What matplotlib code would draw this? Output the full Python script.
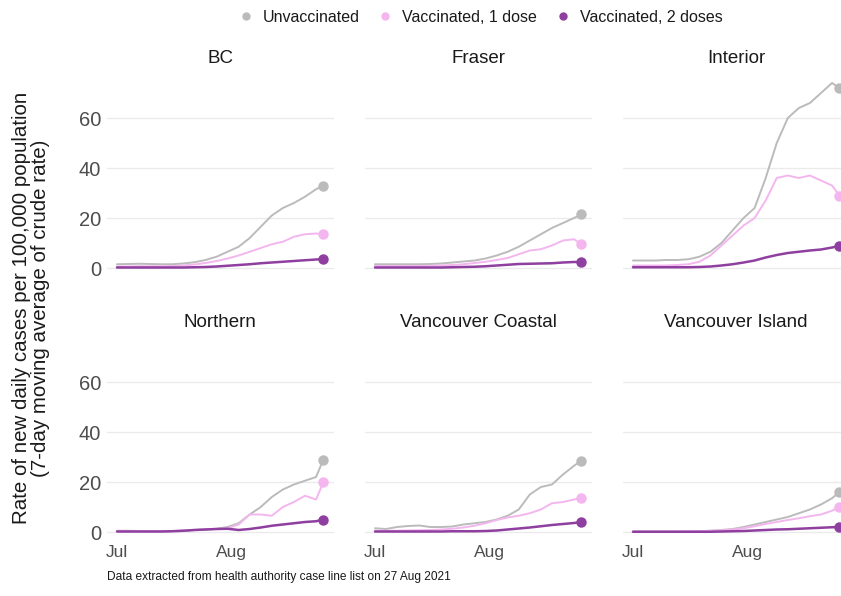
import numpy as np
import matplotlib
matplotlib.use("Agg")
import matplotlib.pyplot as plt
import matplotlib.dates as mdates
from matplotlib.lines import Line2D

plt.rcParams['font.family'] = ['Liberation Sans', 'DejaVu Sans']

# dates the values were read at (every 3 days, plus the last day)
dates = np.array(['2021-07-01', '2021-07-04', '2021-07-07', '2021-07-10', '2021-07-13',
                  '2021-07-16', '2021-07-19', '2021-07-22', '2021-07-25', '2021-07-28',
                  '2021-07-31', '2021-08-03', '2021-08-06', '2021-08-09', '2021-08-12',
                  '2021-08-15', '2021-08-18', '2021-08-21', '2021-08-24', '2021-08-26'],
                 dtype='datetime64[D]')

regions = ["BC", "Fraser", "Interior", "Northern", "Vancouver Coastal", "Vancouver Island"]
groups = ["Unvaccinated", "Vaccinated, 1 dose", "Vaccinated, 2 doses"]

bc_unvax = [1.5, 1.6, 1.7, 1.6, 1.5, 1.5, 1.8, 2.3, 3.2, 4.5, 6.5, 8.5, 12, 16.5, 21, 24, 26, 28.5, 31.5, 33]
bc_dose1 = [0.6, 0.6, 0.7, 0.7, 0.7, 0.8, 1, 1.4, 2, 2.8, 3.8, 5, 6.5, 8, 9.5, 10.5, 12.5, 13.5, 13.8, 13.5]
bc_dose2 = [0.2, 0.2, 0.2, 0.2, 0.2, 0.2, 0.2, 0.3, 0.4, 0.6, 0.9, 1.2, 1.5, 1.9, 2.2, 2.5, 2.8, 3.1, 3.4, 3.6]

fraser_unvax = [1.5, 1.5, 1.5, 1.5, 1.5, 1.6, 1.8, 2.2, 2.6, 3.0, 3.8, 5, 6.5, 8.5, 11, 13.5, 16, 18, 20, 21.5]
fraser_dose1 = [0.8, 0.8, 0.8, 0.8, 0.8, 0.9, 1, 1.2, 1.5, 2, 2.5, 3.2, 4, 5.5, 7, 7.5, 9, 11, 11.5, 9.5]
fraser_dose2 = [0.2, 0.2, 0.2, 0.2, 0.2, 0.2, 0.2, 0.3, 0.4, 0.5, 0.7, 1.0, 1.3, 1.6, 1.7, 1.8, 1.9, 2.2, 2.4, 2.4]

interior_unvax = [3, 3, 3, 3.2, 3.2, 3.5, 4.5, 6.5, 10, 15, 20, 24, 36, 50, 60, 64, 66, 70, 74, 72]
interior_dose1 = [1, 1, 1, 1, 1.2, 1.5, 2.5, 5, 9, 13, 17, 20, 27, 36, 37, 36, 37, 35, 33, 29]
interior_dose2 = [0.3, 0.3, 0.3, 0.3, 0.3, 0.3, 0.4, 0.6, 1, 1.5, 2.2, 3, 4.2, 5.2, 6, 6.5, 7, 7.4, 8.2, 8.8]

northern_unvax = [0.5, 0.5, 0.4, 0.3, 0.3, 0.4, 0.5, 0.8, 1, 1.3, 2, 3.5, 7, 10, 14, 17, 19, 20.5, 22, 29]
northern_dose1 = [0.3, 0.3, 0.3, 0.3, 0.3, 0.4, 0.5, 0.8, 1, 1.2, 1.5, 3, 7, 7, 6.5, 10, 12, 14.5, 13, 20]
northern_dose2 = [0.2, 0.2, 0.2, 0.2, 0.2, 0.3, 0.5, 0.8, 1, 1.2, 1.3, 0.8, 1.2, 1.8, 2.5, 3, 3.5, 4, 4.3, 5]

vch_unvax = [1.5, 1.2, 2, 2.4, 2.6, 2, 2, 2.2, 3, 3.5, 4, 5, 6.5, 9, 15, 18, 19, 23, 26.5, 28.5]
vch_dose1 = [0.5, 0.5, 0.5, 0.6, 0.7, 0.8, 1, 1.3, 1.8, 2.5, 3.5, 4.8, 5.8, 6.5, 7.5, 9, 11.5, 12, 13, 13.5]
vch_dose2 = [0.2, 0.2, 0.2, 0.2, 0.2, 0.2, 0.2, 0.3, 0.3, 0.3, 0.4, 0.6, 1, 1.4, 1.8, 2.3, 2.8, 3.2, 3.6, 4]

viha_unvax = [0.2, 0.2, 0.2, 0.2, 0.2, 0.2, 0.3, 0.5, 0.8, 1.2, 2, 3, 4, 5, 6, 7.5, 9, 11, 13.5, 16]
viha_dose1 = [0.1, 0.1, 0.1, 0.1, 0.1, 0.2, 0.3, 0.5, 0.7, 1, 1.5, 2.3, 3.2, 4, 4.8, 5.5, 6.3, 7, 8.5, 10]
viha_dose2 = [0.1, 0.1, 0.1, 0.1, 0.1, 0.1, 0.1, 0.1, 0.2, 0.3, 0.4, 0.6, 0.8, 1, 1.1, 1.3, 1.5, 1.7, 1.9, 2]

series = {
    "BC": [bc_unvax, bc_dose1, bc_dose2],
    "Fraser": [fraser_unvax, fraser_dose1, fraser_dose2],
    "Interior": [interior_unvax, interior_dose1, interior_dose2],
    "Northern": [northern_unvax, northern_dose1, northern_dose2],
    "Vancouver Coastal": [vch_unvax, vch_dose1, vch_dose2],
    "Vancouver Island": [viha_unvax, viha_dose1, viha_dose2],
}

colors = ['#BBBBBB', '#F3B6EE', '#8F3F9F']
widths = [1.4, 1.4, 1.8]

W, H = 841, 596
fig = plt.figure(figsize=(W / 100, H / 100), dpi=100)

col_left = [106.7, 364.7, 622.7]
row_top = [71, 335]
pw, ph = 227, 206

x0 = np.datetime64('2021-07-01') - np.timedelta64(67, 'h')
x1 = np.datetime64('2021-08-26') + np.timedelta64(67, 'h')

for i, reg in enumerate(regions):
    r, c = divmod(i, 3)
    ax = fig.add_axes([col_left[c] / W, 1 - (row_top[r] + ph) / H, pw / W, ph / H])
    for k in range(3):
        vals = series[reg][k]
        ax.plot(dates, vals, color=colors[k], lw=widths[k], solid_capstyle='round', zorder=3 + k)
        ax.plot(dates[-1:], vals[-1:], 'o', color=colors[k], ms=6.5, zorder=3 + k)
    ax.set_xlim(x0, x1)
    ax.set_ylim(-3.6, 78.8)
    ax.set_yticks([0, 20, 40, 60])
    ax.set_xticks([np.datetime64('2021-07-01'), np.datetime64('2021-08-01')])
    ax.xaxis.set_major_formatter(mdates.DateFormatter('%b'))
    ax.grid(axis='y', color='#EBEBEB', lw=1.0)
    ax.set_axisbelow(True)
    for s in ax.spines.values():
        s.set_visible(False)
    ax.tick_params(length=0, labelsize=14.5, labelcolor='#4D4D4D', pad=4)
    ax.tick_params(axis='x', labelsize=12.5, pad=3)
    if c != 0:
        ax.tick_params(labelleft=False)
    if r == 0:
        ax.tick_params(labelbottom=False)
    ax.set_title(reg, fontsize=13.5, color='#1A1A1A', pad=6)

fig.text(31 / W, 1 - 308 / H,
         "Rate of new daily cases per 100,000 population\n(7-day moving average of crude rate)",
         rotation=90, ha='center', va='center', fontsize=14.8, color='#1A1A1A', linespacing=1.05)

handles = [Line2D([], [], ls='none', marker='o', ms=5, color=col) for col in colors]
fig.legend(handles, groups, loc='center', bbox_to_anchor=(481 / W, 1 - 17 / H), ncol=3,
           frameon=False, fontsize=11.5, handletextpad=0.65, columnspacing=1.22,
           handlelength=0.8, labelcolor='#1A1A1A')

fig.text(107 / W, 1 - 577 / H, "Data extracted from health authority case line list on 27 Aug 2021",
         fontsize=8.6, color='#1A1A1A', ha='left', va='center')

fig.savefig("out.png", dpi=100)
